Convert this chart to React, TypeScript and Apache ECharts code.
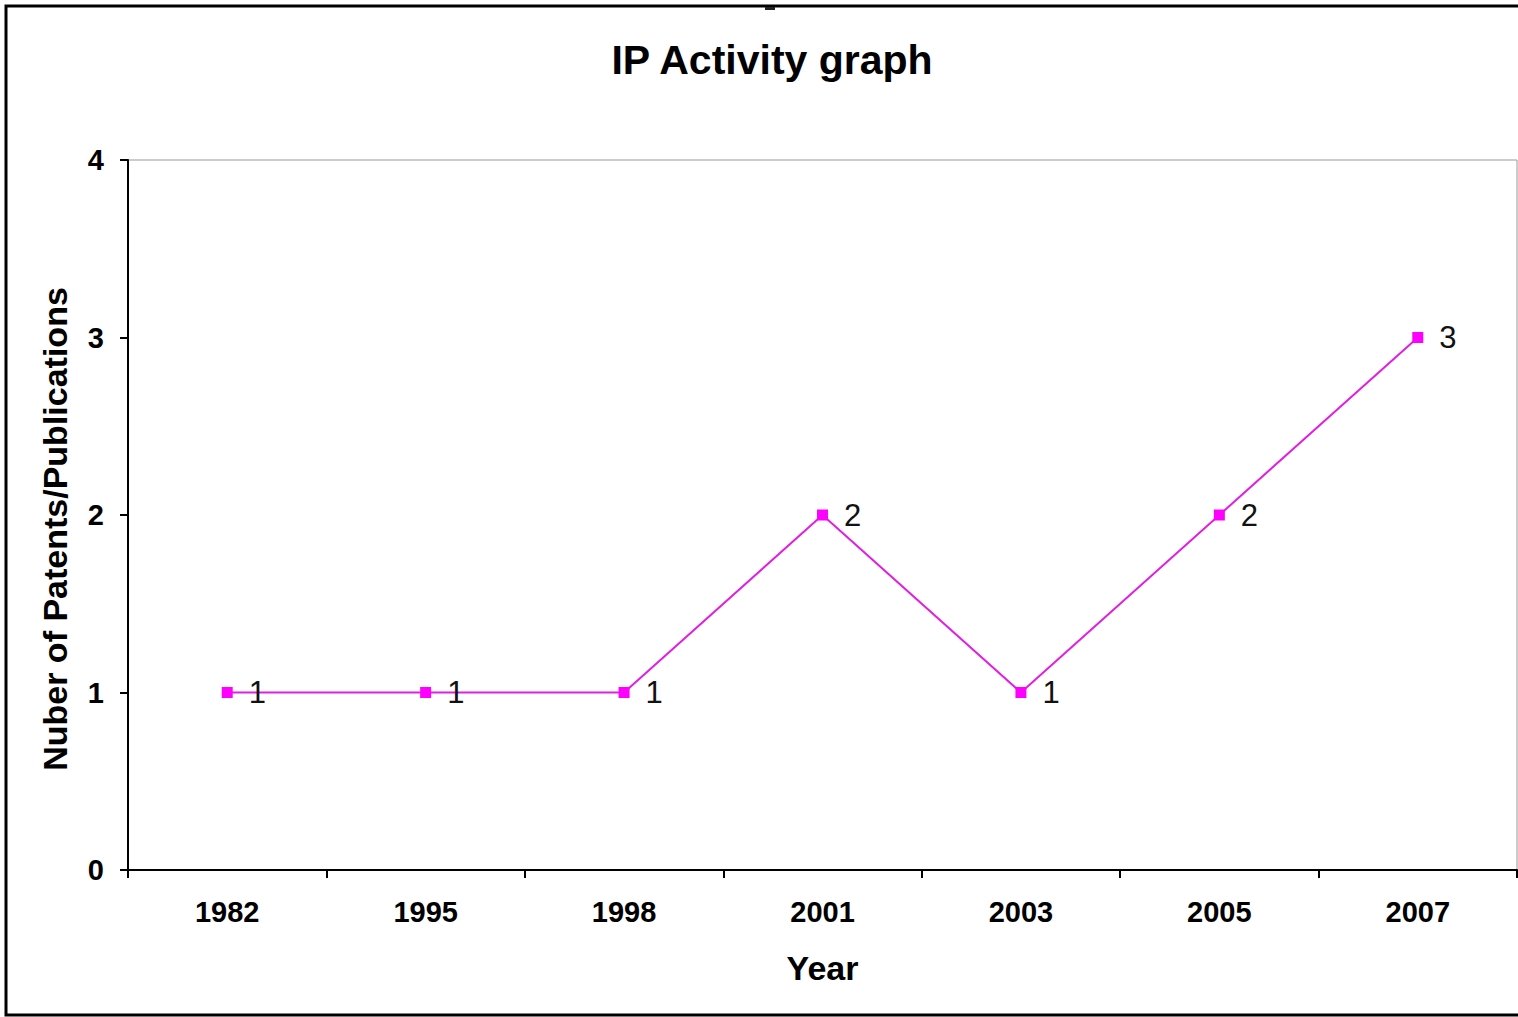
import React, { useEffect, useRef } from "react";
import * as echarts from "echarts";

const years = ["1982", "1995", "1998", "2001", "2003", "2005", "2007"];
const counts = [1, 1, 1, 2, 1, 2, 3];
const yTicks = { min: 0, max: 4, interval: 1 };

export default function App() {
  const ref = useRef<HTMLDivElement>(null);
  useEffect(() => {
    const chart = echarts.init(ref.current!, null, { renderer: "svg" });
    const font = "Liberation Sans, Arial, sans-serif";
    chart.setOption({
      animation: false,
      backgroundColor: "#ffffff",
      title: {
        text: "IP Activity graph",
        left: 767,
        textAlign: "center",
        top: 34,
        textStyle: { fontFamily: font, fontWeight: "bold", fontSize: 41, color: "#000" },
      },
      graphic: [
        {
          type: "rect",
          shape: { x: 6, y: 6, width: 1530, height: 1009 },
          style: { fill: "none", stroke: "#000", lineWidth: 3 },
          silent: true,
        },
        {
          type: "rect",
          shape: { x: 765, y: 7, width: 10, height: 3 },
          style: { fill: "#222" },
          silent: true,
        },
      ],
      grid: {
        left: 128,
        right: 1,
        top: 160,
        bottom: 147,
        show: true,
        borderColor: "#999",
        borderWidth: 1,
        backgroundColor: "#fff",
      },
      xAxis: {
        type: "category",
        data: years,
        boundaryGap: true,
        name: "Year",
        nameLocation: "middle",
        nameGap: 81,
        nameTextStyle: { fontFamily: font, fontWeight: "bold", fontSize: 34, color: "#000" },
        axisLine: { lineStyle: { color: "#000", width: 2 } },
        axisTick: { show: true, length: 8, alignWithLabel: false, lineStyle: { color: "#000", width: 2 } },
        axisLabel: { fontFamily: font, fontWeight: "bold", fontSize: 29, color: "#000", margin: 27 },
        splitLine: { show: false },
      },
      yAxis: {
        type: "value",
        min: yTicks.min,
        max: yTicks.max,
        interval: yTicks.interval,
        name: "Nuber of Patents/Publications",
        nameLocation: "middle",
        nameGap: 56,
        nameTextStyle: {
          fontFamily: font,
          fontWeight: "bold",
          fontSize: 34,
          color: "#000",
          padding: [0, 28, 0, 0],
        },
        axisLine: { show: true, lineStyle: { color: "#000", width: 2 } },
        axisTick: { show: true, length: 8, lineStyle: { color: "#000", width: 2 } },
        axisLabel: { fontFamily: font, fontWeight: "bold", fontSize: 29, color: "#000", margin: 24 },
        splitLine: { show: false },
      },
      series: [
        {
          type: "line",
          data: counts,
          symbol: "rect",
          symbolSize: 11,
          itemStyle: { color: "#FF00FF" },
          lineStyle: { color: "#E020E0", width: 2 },
          label: {
            show: true,
            position: "right",
            distance: 16,
            fontFamily: font,
            fontSize: 31,
            color: "#111",
          },
        },
      ],
    });
    return () => chart.dispose();
  }, []);
  return (
    <div
      ref={ref}
      style={{ position: "absolute", left: 0, top: 0, width: 1518, height: 1017 }}
    />
  );
}
